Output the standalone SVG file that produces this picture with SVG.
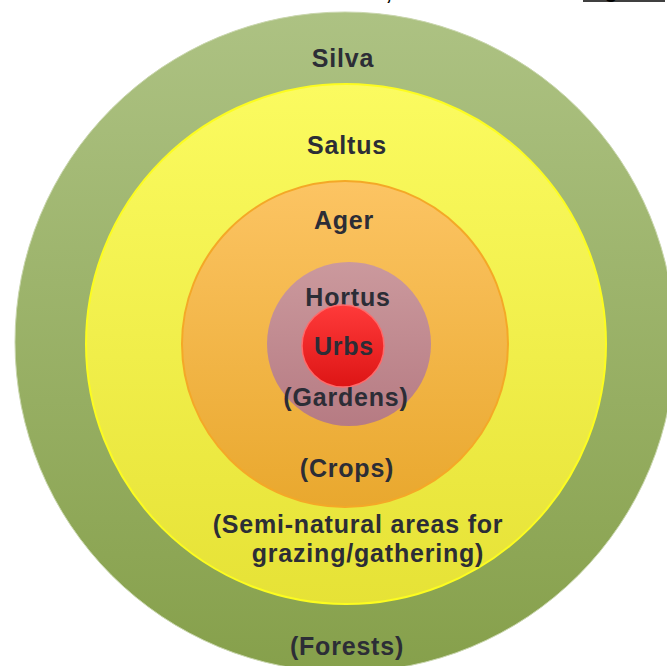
<svg xmlns="http://www.w3.org/2000/svg" width="667" height="666" viewBox="0 0 667 666">
<style>
.t{font-family:"Liberation Sans",Arial,sans-serif;font-weight:bold;font-size:25px;fill:#2c2d36;text-anchor:middle;letter-spacing:0.8px}
.cap{font-family:"Liberation Sans",Arial,sans-serif;font-weight:bold;font-size:20px;fill:#000}
</style>
<defs>
<linearGradient id="gG" x1="0" y1="0" x2="0" y2="1"><stop offset="0" stop-color="#adc283"/><stop offset="1" stop-color="#86a04b"/></linearGradient>
<linearGradient id="gY" x1="0" y1="0" x2="0" y2="1"><stop offset="0" stop-color="#fbfb60"/><stop offset="1" stop-color="#e6e236"/></linearGradient>
<linearGradient id="gO" x1="0" y1="0" x2="0" y2="1"><stop offset="0" stop-color="#fcc463"/><stop offset="1" stop-color="#e9a82e"/></linearGradient>
<linearGradient id="gP" x1="0" y1="0" x2="0" y2="1"><stop offset="0" stop-color="#cb999d"/><stop offset="1" stop-color="#b67b83"/></linearGradient>
<linearGradient id="gR" x1="0" y1="0" x2="0" y2="1"><stop offset="0" stop-color="#ff3a3a"/><stop offset="1" stop-color="#dd1515"/></linearGradient>
</defs>
<rect width="667" height="666" fill="#ffffff"/>
<g id="caption">
<text class="cap" x="386" y="0">,</text>
<text class="cap" x="605" y="-2">g</text>
<line x1="583" y1="1" x2="665" y2="1" stroke="#000" stroke-width="1.5"/>
</g>
<g id="silva">
<circle cx="345" cy="342" r="330" fill="url(#gG)" stroke="#c9d6ad" stroke-width="1"/>
<text class="t" x="343" y="67">Silva</text>
<text class="t" x="347" y="655">(Forests)</text>
</g>
<g id="saltus">
<circle cx="346" cy="344" r="260" fill="url(#gY)" stroke="#fcfc20" stroke-width="2"/>
<text class="t" x="347" y="154">Saltus</text>
<text class="t" x="358" y="533">(Semi-natural areas for</text>
<text class="t" x="368" y="562">grazing/gathering)</text>
</g>
<g id="ager">
<circle cx="345" cy="344" r="163" fill="url(#gO)" stroke="#f4a827" stroke-width="2"/>
<text class="t" x="344" y="229">Ager</text>
<text class="t" x="347" y="477">(Crops)</text>
</g>
<g id="hortus">
<circle cx="349" cy="344" r="82" fill="url(#gP)"/>
<text class="t" x="348" y="306">Hortus</text>
<text class="t" x="346" y="406">(Gardens)</text>
</g>
<g id="urbs">
<circle cx="343" cy="346" r="41" fill="url(#gR)" stroke="#ff6a6a" stroke-width="1.5"/>
<text class="t" x="344" y="355">Urbs</text>
</g>
<g id="connectors"/>
</svg>
